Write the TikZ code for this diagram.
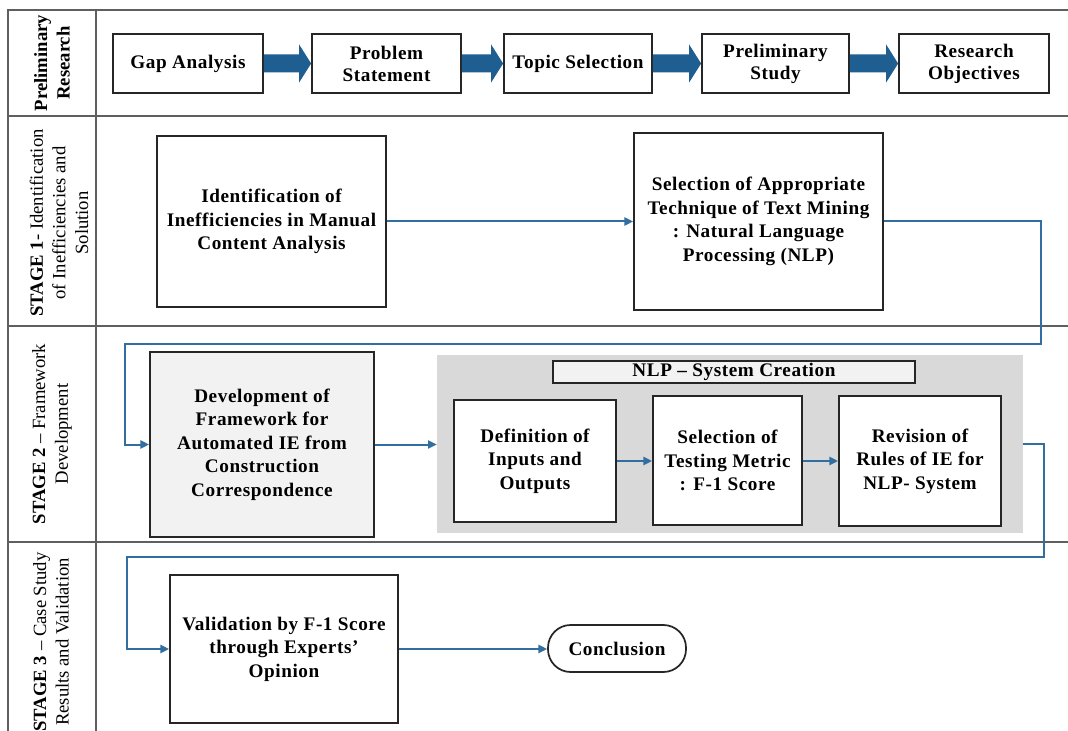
\documentclass[tikz,border=0pt]{standalone}
\usepackage{fontspec}
\setmainfont{Liberation Serif}
\newfontfamily\boxfont[LetterSpace=3]{Liberation Serif}
\usetikzlibrary{calc,arrows.meta}
\definecolor{linkblue}{RGB}{50,110,160}
\definecolor{blockblue}{RGB}{31,94,145}
\definecolor{panelgray}{RGB}{217,217,217}
\definecolor{softgray}{RGB}{242,242,242}
\definecolor{rulegray}{RGB}{95,95,95}

\begin{document}
\begin{tikzpicture}[x=0.75pt,y=-0.75pt,
  % a node spanning the pixel rectangle (x1,y1)-(x2,y2)
  area/.style n args={4}{minimum width={(#3-#1)*0.75pt}, minimum height={(#4-#2)*0.75pt},
    at={({(#1+#3)/2},{(#2+#4)/2})}},
  box/.style={draw=black!85, line width=1.3pt, fill=white, inner sep=0pt, align=center,
    font={\boxfont\bfseries\fontsize{14.4}{17.6}\selectfont}},
  topbox/.style={box, font={\boxfont\bfseries\fontsize{14.4}{16.5}\selectfont}},
  lane/.style={rotate=90, align=center, inner sep=0pt, font={\fontsize{14}{17}\selectfont}},
  conn/.style={draw=linkblue, line width=1.5pt, -{Triangle[length=6.5pt,width=6pt]}},
  tablerule/.style={draw=rulegray, line width=1pt}]

\useasboundingbox (0,0) rectangle (1068,731);
\fill[white] (0,0) rectangle (1068,731);

% table frame and lane separators
\draw[tablerule] (1075,10) -- (8,10) -- (8,740);
\draw[tablerule] (96,10) -- (96,740);
\draw[tablerule] (8,116) -- (1075,116);
\draw[tablerule] (8,326) -- (1075,326);
\draw[tablerule] (8,542) -- (1075,542);

% lane titles
\node[lane] (lane0) at (52,63) {\textbf{Preliminary}\\\textbf{Research}};
\node[lane] (lane1) at (59,223) {\textbf{STAGE 1}- Identification\\of Inefficiencies and\\Solution};
\node[lane] (lane2) at (52,434) {\textbf{STAGE 2} – Framework\\Development};
\node[lane] (lane3) at (51,642) {\textbf{STAGE 3} – Case Study\\Results and Validation};

% preliminary research row
\node[topbox, area={113}{34}{263}{93}] (gap) {Gap Analysis};
\node[topbox, area={312}{34}{461}{93}] (prob) {Problem\\Statement};
\node[topbox, area={504}{34}{652}{93}] (topic) {Topic Selection};
\node[topbox, area={702}{34}{849}{93}] (prelim) {Preliminary\\Study};
\node[topbox, area={899}{34}{1049}{93}] (obj) {Research\\Objectives};

\foreach \a/\b in {gap/prob, prob/topic, topic/prelim, prelim/obj}
  \fill[blockblue] ($(\a.east)+(0,-9)$) -- ($(\b.west)+(-12,-9)$) -- ($(\b.west)+(-12,-19)$)
    -- (\b.west) -- ($(\b.west)+(-12,19)$) -- ($(\b.west)+(-12,9)$) -- ($(\a.east)+(0,9)$) -- cycle;

% stage 1
\node[box, area={157}{136}{386}{307}] (ident) {Identification of\\Inefficiencies in Manual\\Content Analysis};
\node[box, area={634}{133}{883}{310}] (sel) {Selection of Appropriate\\Technique of Text Mining\\: Natural Language\\Processing (NLP)};

% stage 2
\node[box, fill=softgray, area={150}{352}{374}{537}] (dev) {Development of\\Framework for\\Automated IE from\\Construction\\Correspondence};
\node[fill=panelgray, inner sep=0pt, area={437}{355}{1023}{533}] (nlp) {};
\node[box, line width=0.9pt, fill=softgray, area={553}{361}{915}{383}] (hdr) {NLP – System Creation};
\node[box, area={454}{400}{616}{522}] (def) {Definition of\\Inputs and\\Outputs};
\node[box, area={653}{396}{802}{525}] (tst) {Selection of\\Testing Metric\\: F-1 Score};
\node[box, area={839}{396}{1001}{526}] (rev) {Revision of\\Rules of IE for\\NLP- System};

% stage 3
\node[box, area={170}{575}{398}{723}] (val) {Validation by F-1 Score\\through Experts’\\Opinion};
\node[box, rounded corners=17pt, area={548}{625}{686}{672}] (concl) {Conclusion};

% connectors
\coordinate (r1) at (1041,344);
\coordinate (l1) at (125,344);
\coordinate (r2) at (1044,557);
\coordinate (l2) at (127,557);
\draw[conn] (ident.east) -- (ident.east -| sel.west);
\draw[conn] (sel.east) -| (r1) -- (l1) |- (dev.west);
\draw[conn] (dev.east) -- (dev.east -| nlp.west);
\draw[conn] (def.east) -- (def.east -| tst.west);
\draw[conn] (def.east -| tst.east) -- (def.east -| rev.west);
\draw[conn] (nlp.east) -| (r2) -- (l2) |- (val.west);
\draw[conn] (val.east) -- (val.east -| concl.west);
\end{tikzpicture}
\end{document}
